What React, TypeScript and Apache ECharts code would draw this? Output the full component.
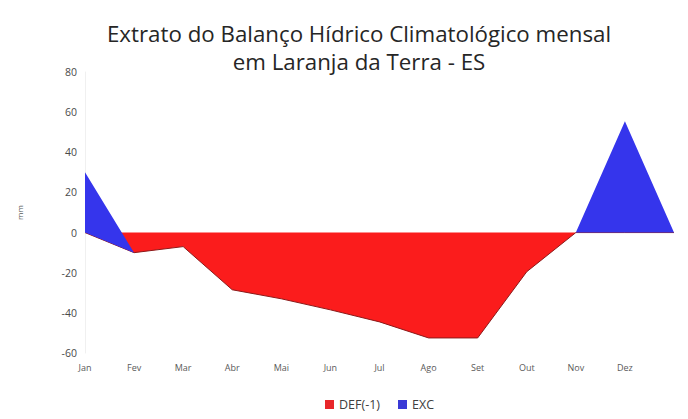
import React, { useEffect, useRef } from "react";
import * as echarts from "echarts";

const months = ["Jan", "Fev", "Mar", "Abr", "Mai", "Jun", "Jul", "Ago", "Set", "Out", "Nov", "Dez", ""];
const defValues = [0, -10, -7, -28.5, -33, -38.5, -44.5, -52.5, -52.5, -19.5, 0, 0, 0];
const excValues = [30, 0, 0, 0, 0, 0, 0, 0, 0, 0, 0, 55.5, 0];
const titleLines = ["Extrato do Balanço Hídrico Climatológico mensal", "em Laranja da Terra - ES"];
const seriesNames = ["DEF(-1)", "EXC"];

const FONT = "'Open Sans', sans-serif";

export default function App() {
  const ref = useRef<HTMLDivElement>(null);
  useEffect(() => {
    if (!ref.current) return;
    const chart = echarts.init(ref.current, null, { renderer: "svg" });
    chart.setOption({
      animation: false,
      backgroundColor: "#ffffff",
      title: {
        text: titleLines.join("\n"),
        left: 354,
        textAlign: "center",
        top: 14,
        textStyle: {
          fontFamily: FONT,
          fontSize: 22.3,
          fontWeight: "normal",
          color: "#262626",
          lineHeight: 28,
        },
      },
      legend: {
        bottom: 3,
        left: 320,
        itemWidth: 9,
        itemHeight: 9,
        itemGap: 18,
        icon: "rect",
        textStyle: { fontFamily: FONT, fontSize: 12.5, color: "#404040" },
        data: seriesNames,
      },
      grid: { left: 85, right: 14, top: 72, bottom: 66 },
      xAxis: {
        type: "category",
        data: months,
        boundaryGap: false,
        axisLine: { show: false },
        axisTick: { show: false },
        axisLabel: { fontFamily: FONT, fontSize: 9, color: "#595959", margin: 10 },
        splitLine: { show: false },
      },
      yAxis: {
        type: "value",
        min: -60,
        max: 80,
        interval: 20,
        name: "mm",
        nameLocation: "middle",
        nameGap: 62,
        nameTextStyle: { fontFamily: FONT, fontSize: 8, color: "#595959" },
        axisLine: { show: true, lineStyle: { color: "#f0f0f0" } },
        axisTick: { show: false },
        axisLabel: { fontFamily: FONT, fontSize: 10.5, color: "#4a4a4a", margin: 8 },
        splitLine: { show: false },
      },
      series: [
        {
          name: seriesNames[0],
          type: "line",
          stack: "total",
          stackStrategy: "all",
          data: defValues,
          showSymbol: false,
          symbol: "none",
          color: "#e8262a",
          lineStyle: { color: "#8b1a1a", width: 1 },
          areaStyle: { color: "#fb1c1c", opacity: 1 },
          z: 2,
        },
        {
          name: seriesNames[1],
          type: "line",
          stack: "total",
          stackStrategy: "all",
          data: excValues,
          showSymbol: false,
          symbol: "none",
          color: "#3a3ad6",
          lineStyle: { color: "#25258a", width: 0, opacity: 0 },
          areaStyle: { color: "#3535ec", opacity: 1 },
          z: 3,
        },
      ],
    });
    return () => chart.dispose();
  }, []);
  return <div ref={ref} style={{ position: "fixed", left: 0, top: 0, width: 688, height: 419 }} />;
}
